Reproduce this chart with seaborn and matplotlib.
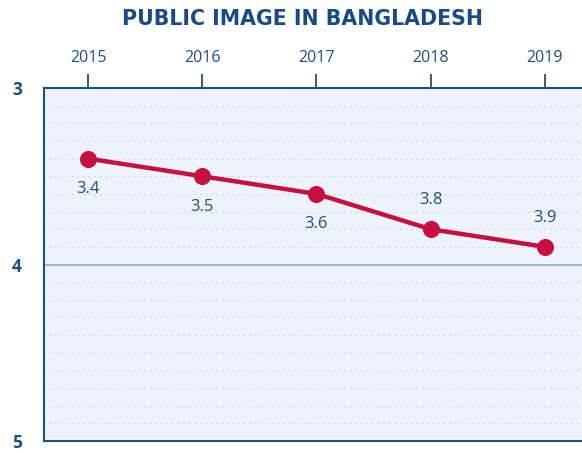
import matplotlib
matplotlib.use("Agg")
import matplotlib.pyplot as plt
import seaborn as sns
import pandas as pd
import numpy as np

# values
years = [2015, 2016, 2017, 2018, 2019]
scores = [3.4, 3.5, 3.6, 3.8, 3.9]
label_above = [False, False, False, True, True]

navy = "#1c4f86"
red = "#c8103e"

sns.set_style("white")
plt.rcParams['font.family'] = ['Open Sans', 'DejaVu Sans']

df = pd.DataFrame({'year': years, 'score': scores})

fig = plt.figure(figsize=(5.82, 4.53), dpi=100)
ax = fig.add_axes([44/582, 1 - 441/453, 1 - 44/582, (441 - 88)/453])
ax.set_facecolor("#eef3fb")

sns.lineplot(data=df, x='year', y='score', ax=ax, color=red, linewidth=3.2,
             marker='o', markersize=11.5, markeredgecolor=red, zorder=5)

ax.set_ylim(5, 3)
ax.set_xlim(2014.614, 2019.325)

# dotted minor grid every 0.1
for v in np.arange(3.1, 5.0, 0.1):
    if abs(v - 4) < 1e-6:
        continue
    ax.axhline(v, color="#b9c3d0", linestyle=(0, (1, 4)), linewidth=0.8, zorder=1)
ax.axhline(4, color="#8fb3d6", linewidth=1.3, zorder=2)

for x, y, up in zip(years, scores, label_above):
    ax.annotate(f"{y}", (x, y), xytext=(0, 21 if up else -22), textcoords='offset points',
                ha='center', va='center', fontsize=12, color=navy)

ax.xaxis.tick_top()
ax.set_xticks(years)
ax.set_xticklabels([str(y) for y in years])
ax.set_yticks([3, 4, 5])
ax.set_yticklabels(['3', '4', '5'], fontweight='bold')
ax.tick_params(axis='x', direction='out', length=10, width=1.3, color=navy,
               labelcolor=navy, labelsize=11.5, pad=6)
ax.tick_params(axis='y', direction='out', length=10, width=1.3, color=navy,
               labelcolor=navy, labelsize=12.5, pad=6)
ax.set_xlabel('')
ax.set_ylabel('')

for s in ['left', 'top', 'bottom']:
    ax.spines[s].set_color(navy)
    ax.spines[s].set_linewidth(1.5)
ax.spines['right'].set_visible(False)

fig.text(0.52, 0.959, "PUBLIC IMAGE IN BANGLADESH", ha='center', va='center',
         fontsize=14.8, fontweight='heavy', color="#174a8a", family='DejaVu Sans')

fig.savefig("out.png", dpi=100)
